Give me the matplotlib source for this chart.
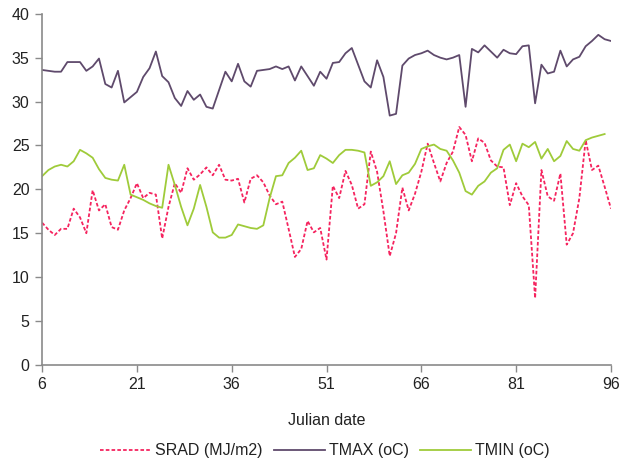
import numpy as np
import matplotlib
matplotlib.use('Agg')
import matplotlib.pyplot as plt

plt.rcParams['font.family'] = ['Liberation Sans', 'DejaVu Sans']

days = np.arange(6, 97)

srad = [16.2, 15.4, 14.8, 15.5, 15.5, 17.8, 16.8, 15.0, 19.9, 17.6,
        18.3, 15.7, 15.4, 17.6, 19.0, 20.7, 19.0, 19.6, 19.4, 14.4,
        18.0, 20.7, 19.6, 22.4, 21.1, 21.7, 22.5, 21.6, 22.8, 21.1,
        21.0, 21.2, 18.5, 21.2, 21.6, 20.8, 19.3, 18.3, 18.6, 15.5,
        12.3, 13.2, 16.4, 15.1, 15.6, 12.0, 20.4, 19.0, 22.1, 20.5,
        17.8, 18.3, 24.3, 22.0, 17.5, 12.4, 15.0, 20.2, 17.6, 19.5,
        22.0, 25.2, 23.0, 20.9, 23.0, 24.3, 27.1, 26.2, 23.2, 25.8,
        25.3, 23.3, 22.6, 22.5, 18.2, 20.7, 19.2, 18.2, 7.6, 22.2,
        19.2, 18.7, 21.8, 13.7, 15.0, 19.0, 25.6, 22.2, 22.7, 20.3,
        17.8]

tmax = [33.6, 33.5, 33.4, 33.4, 34.5, 34.5, 34.5, 33.5, 34.0, 34.9,
        32.0, 31.6, 33.5, 29.9, 30.5, 31.1, 32.8, 33.8, 35.7, 32.9,
        32.2, 30.4, 29.5, 31.2, 30.2, 30.8, 29.4, 29.2, 31.3, 33.4,
        32.3, 34.3, 32.3, 31.7, 33.5, 33.6, 33.7, 34.0, 33.7, 34.0,
        32.4, 34.0, 32.9, 31.8, 33.4, 32.6, 34.4, 34.5, 35.5, 36.1,
        34.2, 32.3, 31.6, 34.7, 32.8, 28.4, 28.6, 34.1, 34.9, 35.3,
        35.5, 35.8, 35.3, 35.0, 34.8, 35.0, 35.3, 29.4, 36.0, 35.6,
        36.4, 35.7, 35.0, 35.9, 35.5, 35.4, 36.3, 36.4, 29.8, 34.2,
        33.2, 33.4, 35.8, 34.0, 34.8, 35.1, 36.3, 36.9, 37.6, 37.1,
        36.9]

tmin = [21.5, 22.2, 22.6, 22.8, 22.6, 23.2, 24.5, 24.1, 23.6, 22.3,
        21.3, 21.1, 21.0, 22.8, 19.4, 19.1, 18.8, 18.4, 18.1, 17.9,
        22.8, 20.5, 18.0, 15.9, 17.8, 20.5, 18.0, 15.1, 14.5, 14.5,
        14.8, 16.0, 15.8, 15.6, 15.5, 15.9, 19.0, 21.5, 21.6, 23.0,
        23.6, 24.4, 22.2, 22.4, 23.9, 23.5, 23.0, 23.9, 24.5, 24.5,
        24.4, 24.2, 20.4, 20.8, 21.5, 23.2, 20.6, 21.6, 21.9, 22.9,
        24.6, 24.9, 25.1, 24.6, 24.4, 23.3, 21.9, 19.8, 19.4, 20.4,
        20.9, 21.9, 22.4, 24.5, 25.1, 23.2, 25.2, 24.8, 25.4, 23.5,
        24.6, 23.2, 23.8, 25.5, 24.6, 24.4, 25.6, 25.9, 26.1, 26.3,
        np.nan]

xticks = [6, 21, 36, 51, 66, 81, 96]

fig = plt.figure(figsize=(6.19, 4.59), dpi=100)
ax = fig.add_axes([0.068, 0.205, 0.919, 0.765])

ax.plot(days, srad, color='#f5245f', lw=1.3, linestyle=(0, (2, 1.2)), label='SRAD (MJ/m2)')
ax.plot(days, tmax, color='#5f4a6c', lw=1.3, label='TMAX (oC)')
ax.plot(days, tmin, color='#9fcb3a', lw=1.3, label='TMIN (oC)')

ax.set_xlim(6, 96)
ax.set_ylim(0, 40)
ax.set_xticks(xticks)
ax.set_yticks(range(0, 41, 5))
for s in ['top', 'right']:
    ax.spines[s].set_visible(False)
for s in ['left', 'bottom']:
    ax.spines[s].set_color('#8a8a8a')
    ax.spines[s].set_linewidth(1.2)
ax.tick_params(direction='out', length=5, width=1, color='#8a8a8a',
               labelsize=11.5, labelcolor='#222222', pad=4)
ax.set_xlabel('Julian date', fontsize=11.5, color='#222222', labelpad=15)

ax.legend(loc='upper center', bbox_to_anchor=(0.497, -0.182), ncol=3, frameon=False,
          fontsize=11.5, handlelength=3.2, handletextpad=0.25, columnspacing=0.7,
          labelcolor='#222222')

fig.savefig('out.png', dpi=100)
